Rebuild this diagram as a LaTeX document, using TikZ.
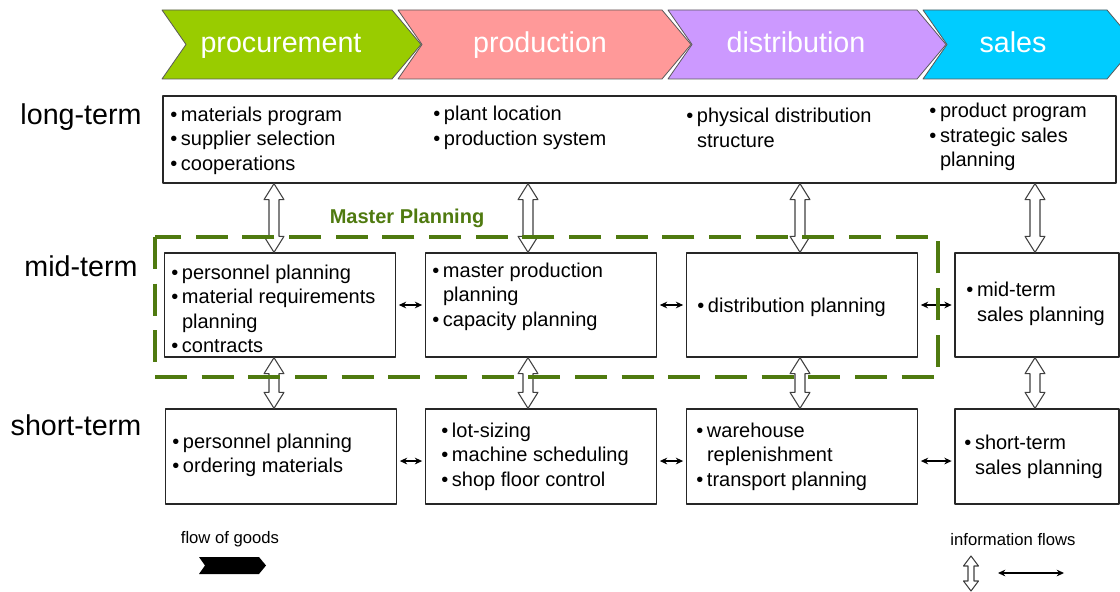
\documentclass[tikz,border=0pt]{standalone}
\usepackage{fontspec}
\setmainfont{Liberation Sans}
\usetikzlibrary{arrows.meta,calc}
\definecolor{procgreen}{RGB}{153,204,0}
\definecolor{prodpink}{RGB}{255,153,153}
\definecolor{distlilac}{RGB}{204,153,255}
\definecolor{salescyan}{RGB}{0,204,255}
\definecolor{mpgreen}{RGB}{79,122,15}
\newcommand{\itm}{\textbullet\kern2.8pt}
\newcommand{\ind}{\phantom{\itm}}
% header chevron: left x, right corner x, colour
\newcommand{\chevron}[3]{%
  \filldraw[fill=#3, draw=black!65, line width=0.6pt]
    (#1,10) -- (#2,10) -- (#2+29,44.5) -- (#2,79) -- (#1,79) -- (#1+24,44.5) -- cycle;}
% hollow double arrow between two boxes at a given x
\newcommand{\flowv}[3]{%
  \draw[flow] let \p1=(#1,0 |- #2.south), \p2=(#1,0 |- #3.north) in
    (\x1,\y1) -- (\x1+7.5pt,\y1-12pt) -- (\x1+3.75pt,\y1-12pt) -- (\x1+3.75pt,\y2+12pt)
    -- (\x1+7.5pt,\y2+12pt) -- (\x1,\y2) -- (\x1-7.5pt,\y2+12pt) -- (\x1-3.75pt,\y2+12pt)
    -- (\x1-3.75pt,\y1-12pt) -- (\x1-7.5pt,\y1-12pt) -- cycle;}
\begin{document}
\begin{tikzpicture}[x=0.75pt, y=-0.75pt, line join=round]
  \tikzset{box/.style={draw=black!85, line width=1pt, fill=white, inner sep=0pt},
           head/.style={anchor=base, text=white, font=\fontsize{21.5}{24}\selectfont},
           term/.style={anchor=base, font=\fontsize{21.5}{24}\selectfont},
           txt/.style={anchor=west, align=left, inner sep=0pt, font=\fontsize{15}{18.4}\selectfont},
           flow/.style={draw=black!75, fill=white, line width=0.8pt},
           link/.style={{Stealth[length=5.5pt,width=5pt]}-{Stealth[length=5.5pt,width=5pt]}, line width=1pt, shorten <=2pt, shorten >=2pt},
           mp/.style={draw=mpgreen, line width=3pt, dash pattern=on 24pt off 11pt},
           legend/.style={font=\fontsize{12.5}{15}\selectfont}}
  \useasboundingbox (0,0) rectangle (1120,592);
  \clip (0,0) rectangle (1120,592);

  % value chain
  \chevron{162}{392}{procgreen}
  \chevron{398}{662}{prodpink}
  \chevron{668}{917}{distlilac}
  \chevron{923}{1107}{salescyan}
  \node[head] (hproc) at (281,53) {procurement};
  \node[head] (hprod) at (540,53) {production};
  \node[head] (hdist) at (796,53) {distribution};
  \node[head] (hsale) at (1013,53) {sales};

  % planning horizons
  \node[term] (long) at (81,124) {long-term};
  \node[term] (mid) at (81,276) {mid-term};
  \node[term] (short) at (76,435) {short-term};

  % boxes
  \node[box, minimum width=714.75pt, minimum height=65.25pt] (lt) at (639.5,139.5) {};
  \node[box, minimum width=173.25pt, minimum height=78pt] (m1) at (280,305) {};
  \node[box, minimum width=173.25pt, minimum height=78pt] (m2) at (541,305) {};
  \node[box, minimum width=173.25pt, minimum height=78pt] (m3) at (802,305) {};
  \node[box, minimum width=123pt, minimum height=78pt] (m4) at (1037,305) {};
  \node[box, minimum width=173.25pt, minimum height=71.25pt] (s1) at (281,456.5) {};
  \node[box, minimum width=173.25pt, minimum height=71.25pt] (s2) at (541,456.5) {};
  \node[box, minimum width=173.25pt, minimum height=71.25pt] (s3) at (802,456.5) {};
  \node[box, minimum width=123pt, minimum height=71.25pt] (s4) at (1037,456.5) {};

  % texts
  \node[txt] (tlt1) at (170,140.5) {\itm materials program\\\itm supplier selection\\\itm cooperations};
  \node[txt] (tlt2) at (433,128) {\itm plant location\\\itm production system};
  \node[txt] (tlt3) at (686,128) {\itm physical distribution\\\ind structure};
  \node[txt] (tlt4) at (929,137) {\itm product program\\\itm strategic sales\\\ind planning};
  \node[txt] (tm1) at (171,309) {\itm personnel planning\\\itm material requirements\\\ind planning\\\itm contracts};
  \node[txt] (tm2) at (432,296.5) {\itm master production\\\ind planning\\\itm capacity planning};
  \node[txt] (tm3) at (697,307) {\itm distribution planning};
  \node[txt] (tm4) at (966,304) {\itm mid-term\\\ind sales planning};
  \node[txt] (ts1) at (172,455.5) {\itm personnel planning\\\itm ordering materials};
  \node[txt] (ts2) at (441,456.5) {\itm lot-sizing\\\itm machine scheduling\\\itm shop floor control};
  \node[txt] (ts3) at (696,456.5) {\itm warehouse\\\ind replenishment\\\itm transport planning};
  \node[txt] (ts4) at (964,457) {\itm short-term\\\ind sales planning};

  % information flows
  \flowv{274}{lt}{m1}
  \flowv{528}{lt}{m2}
  \flowv{800}{lt}{m3}
  \flowv{1035}{lt}{m4}
  \flowv{274}{m1}{s1}
  \flowv{528}{m2}{s2}
  \flowv{800}{m3}{s3}
  \flowv{1035}{m4}{s4}
  \draw[link] (m1) -- (m2);
  \draw[link] (m2) -- (m3);
  \draw[link] (m3) -- (m4);
  \draw[link] ([yshift=-3.4pt]s1.east) -- ([yshift=-3.4pt]s2.west);
  \draw[link] ([yshift=-3.4pt]s2.east) -- ([yshift=-3.4pt]s3.west);
  \draw[link] ([yshift=-3.4pt]s3.east) -- ([yshift=-3.4pt]s4.west);

  % master planning
  \draw[mp] (155,237) rectangle (938,377);
  \node[font=\fontsize{15}{18}\selectfont\bfseries, text=mpgreen] (mplabel) at (407,218) {Master Planning};

  % legend
  \node[legend] (goods) at (230,539) {flow of goods};
  \fill (199,557) -- (259,557) -- (266,565.5) -- (259,574) -- (199,574) -- (205,565.5) -- cycle;
  \node[legend] (info) at (1013,540) {information flows};
  \draw[flow] (971,556) -- (978.5,566) -- (974,566) -- (974,581) -- (978.5,581) -- (971,591)
    -- (963.5,581) -- (968,581) -- (968,566) -- (963.5,566) -- cycle;
  \coordinate (ia) at (998,573);
  \coordinate (ib) at (1064,573);
  \draw[link, shorten <=0pt, shorten >=0pt] (ia) -- (ib);
\end{tikzpicture}
\end{document}
